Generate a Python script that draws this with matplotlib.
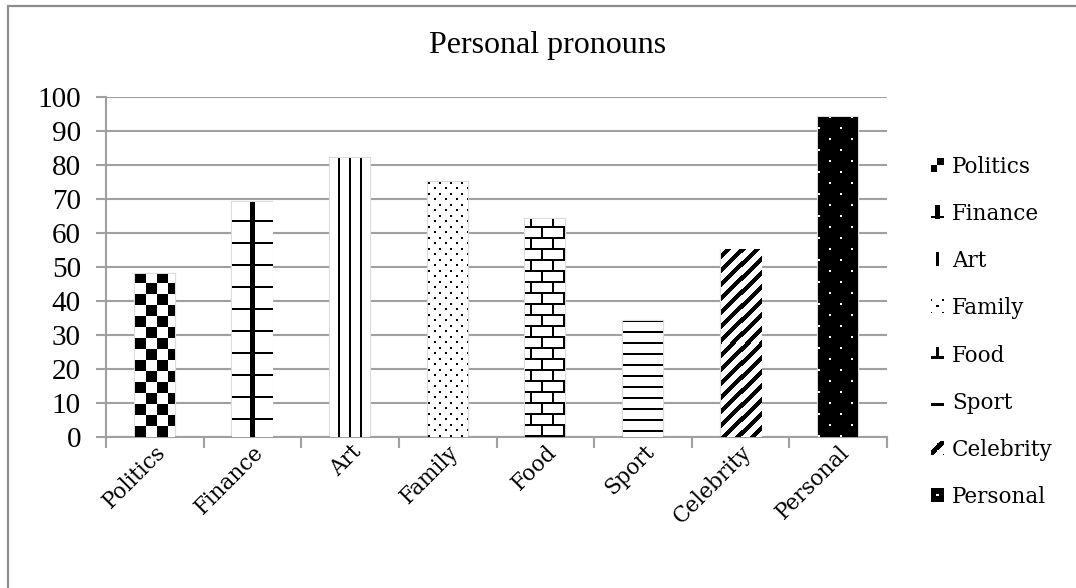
import numpy as np
import matplotlib.pyplot as plt
from matplotlib.patches import Rectangle
from matplotlib.legend_handler import HandlerBase
from matplotlib.image import BboxImage
from matplotlib.transforms import Bbox, TransformedBbox

categories = ['Politics', 'Finance', 'Art', 'Family', 'Food', 'Sport', 'Celebrity', 'Personal']
values = [48, 69, 82, 75, 64, 34, 55, 94]
yticks = list(range(0, 101, 10))

W_PX, H_PX, DPI = 1076, 588, 100


# fill patterns, built on a pixel grid (ix from the left, iy from the bottom);
# each returns True where the pixel is black
def pat_checker(ix, iy, w):
    return ((ix // 11) + (iy // 11)) % 2 == 0


def pat_cross(ix, iy, w):
    return (np.abs(ix + 0.5 - w / 2) < 1.6) | ((iy - 17) % 22 < 2)


def pat_vlines(ix, iy, w):
    c = w / 2
    m = np.zeros(np.broadcast(ix, iy).shape, bool)
    for k in (-1, 0, 1):
        m |= np.abs(ix + 0.5 - (c + 11 * k)) < 1.1
    return m


def pat_dots(ix, iy, w):
    a = (iy % 11 < 2) & (ix % 11 < 2)
    b = ((iy + 5) % 11 < 2) & ((ix + 5) % 11 < 2)
    return a | b


def pat_brick(ix, iy, w):
    row = iy // 11
    return (iy % 11 < 2) | (((ix + 6 + (row % 2) * 11) % 22) < 2)


def pat_hlines(ix, iy, w):
    return (iy - 5) % 11 < 2


def pat_diag(ix, iy, w):
    return (ix - iy) % 14 < 6


def pat_dark(ix, iy, w):
    a = (iy % 22 < 2) & (ix % 22 < 2)
    b = ((iy + 11) % 22 < 2) & ((ix + 11) % 22 < 2)
    return ~(a | b)


patterns = [pat_checker, pat_cross, pat_vlines, pat_dots,
            pat_brick, pat_hlines, pat_diag, pat_dark]
# grid offsets for the little legend swatches
icon_offsets = [(5, 5), (0, 16), (0, 0), (1, 1), (0, 9), (0, 3), (3, 0), (6, 6)]


def render(fn, w, h, dx=0, dy=0):
    iy = np.arange(h)[:, None] + dy
    ix = np.arange(w)[None, :] + dx
    mask = np.broadcast_to(fn(ix, iy, w), (h, w))
    return np.where(mask, 0.0, 1.0)


class PatternHandler(HandlerBase):
    def __init__(self, icon):
        super().__init__()
        self.icon = icon

    def create_artists(self, legend, orig_handle, xdescent, ydescent,
                       width, height, fontsize, trans):
        bb = Bbox.from_bounds(-xdescent, -ydescent, width, height)
        img = BboxImage(TransformedBbox(bb, trans), cmap='gray',
                        interpolation='nearest', origin='lower')
        img.set_data(self.icon)
        img.set_clim(0, 1)
        return [img]


fig = plt.figure(figsize=(W_PX / DPI, H_PX / DPI), dpi=DPI)
ax = fig.add_axes([106 / W_PX, 151 / H_PX, 781 / W_PX, 340 / H_PX])

x = np.arange(len(categories))
width = 0.41
ax.set_xlim(-0.5, len(categories) - 0.5)
ax.set_ylim(0, 100)

bars = ax.bar(x, values, width, color='white', edgecolor='#dcdcdc',
              linewidth=1.6, zorder=2)

# pattern images sized to each bar in screen pixels, snapped to whole pixels
inv = ax.transData.inverted()
for bar, fn in zip(bars, patterns):
    x0, x1 = bar.get_x(), bar.get_x() + bar.get_width()
    h = bar.get_height()
    p0 = np.round(ax.transData.transform((x0, 0)))
    p1 = np.round(ax.transData.transform((x1, h)))
    wp, hp = int(p1[0] - p0[0]), int(p1[1] - p0[1])
    d0 = inv.transform(p0)
    d1 = inv.transform(p1)
    ax.imshow(render(fn, wp, hp), cmap='gray', vmin=0, vmax=1,
              extent=(d0[0], d1[0], d0[1], d1[1]), origin='lower', aspect='auto',
              interpolation='nearest', zorder=3)

ax.set_xlim(-0.5, len(categories) - 0.5)
ax.set_ylim(0, 100)

grid_c = '#a0a0a0'
ax.set_yticks(yticks)
ax.set_yticklabels([str(t) for t in yticks], fontsize=21, family='Liberation Serif')
ax.yaxis.grid(True, color=grid_c, linewidth=1.5, zorder=0)
ax.set_axisbelow(True)

ax.set_xticks(np.arange(-0.5, len(categories)), minor=False)
ax.set_xticklabels([])
ax.set_xticks(x, minor=True)
ax.set_xticklabels(categories, minor=True, rotation=45, ha='right',
                   rotation_mode='anchor', fontsize=15.5, family='DejaVu Serif')
ax.tick_params(axis='x', which='major', length=8, width=1.5, color=grid_c)
ax.tick_params(axis='x', which='minor', length=0, pad=3)
ax.tick_params(axis='y', length=7, width=1.5, color=grid_c, pad=11)

for side in ('top', 'right'):
    ax.spines[side].set_visible(False)
for side in ('left', 'bottom'):
    ax.spines[side].set_color(grid_c)
    ax.spines[side].set_linewidth(1.5)

handler_map = {}
for bar, fn, (dx, dy) in zip(bars, patterns, icon_offsets):
    handler_map[bar] = PatternHandler(render(fn, 12, 12, dx, dy))

fig.legend(list(bars), categories, handler_map=handler_map,
           loc='center left', bbox_to_anchor=(931 / W_PX, 1 - 332 / H_PX),
           frameon=False, borderpad=0, borderaxespad=0,
           prop={'family': 'DejaVu Serif', 'size': 15.5},
           handlelength=0.56, handleheight=0.56, handletextpad=0.42,
           labelspacing=1.17)

fig.text(548 / W_PX, 1 - 45 / H_PX, 'Personal pronouns', ha='center', va='center',
         fontsize=23, family='Liberation Serif')

# outer chart border
fig.add_artist(Rectangle((8 / W_PX, -0.05), 1.1, 1 - 6 / H_PX + 0.05,
                         transform=fig.transFigure, fill=False,
                         edgecolor='#8c8c8c', linewidth=1.6, clip_on=False))

fig.savefig('out.png', dpi=DPI)
